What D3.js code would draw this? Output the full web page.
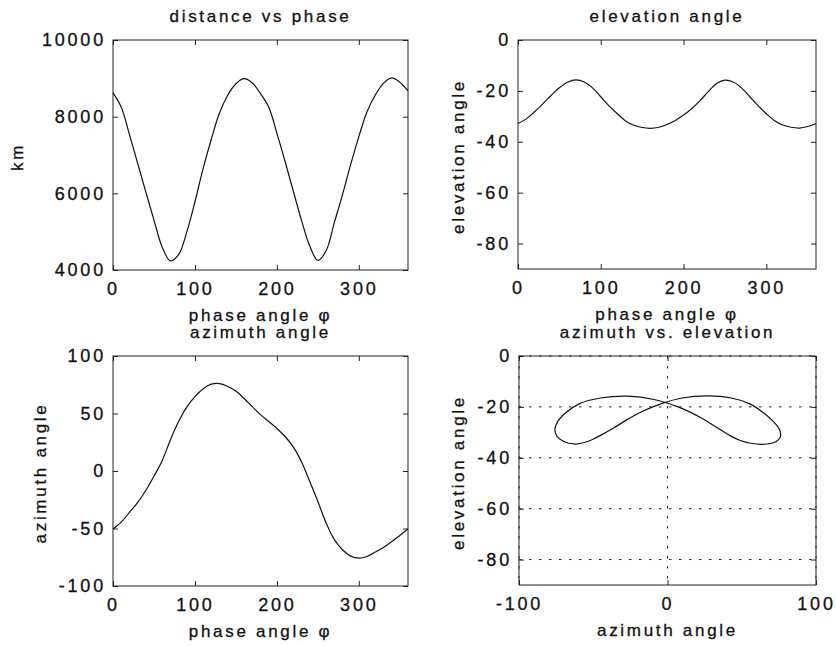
<!DOCTYPE html>
<html>
<head>
<meta charset="utf-8">
<script src="https://cdn.jsdelivr.net/npm/d3@7"></script>
<style>
	body { margin: 0; background: #fff; }
	svg text { font-family: "Liberation Sans", Arial, sans-serif; fill: #111; stroke: #111; stroke-width: 0.3px; }
	.tick text { font-size: 18px; letter-spacing: 2.8px; }
	.title, .label { font-size: 17px; letter-spacing: 2.7px; }
	.box { fill: none; stroke: #222; stroke-width: 1; }
	.tick line { stroke: #222; }
	.curve { fill: none; stroke: #111; stroke-width: 1.2; }
	.grid { stroke: #222; stroke-width: 1; stroke-dasharray: 2.5,7.5; }
</style>
</head>
<body>
<div id="chart"></div>
<script>
var phase = [0, 10, 20, 30, 40, 50, 60, 70, 80, 90, 100, 110, 120, 130, 140, 150, 160, 170, 180,
	190, 200, 210, 220, 230, 240, 250, 260, 270, 280, 290, 300, 310, 320, 330, 340, 350, 360];

var distanceKm = [8620, 8250, 7540, 6790, 6040, 5300, 4600, 4240, 4400, 4990, 5780, 6650, 7410,
	8100, 8560, 8860, 8990, 8880, 8600, 8250, 7570, 6830, 6060, 5300, 4630, 4250, 4500, 5230,
	5960, 6750, 7480, 8130, 8560, 8870, 9010, 8900, 8670];

var elevationDeg = [-32.8, -31.0, -28.2, -25.1, -21.8, -18.8, -16.6, -15.7, -16.5, -18.8, -22.3,
	-25.9, -29.0, -31.8, -33.5, -34.4, -34.7, -34.3, -33.2, -31.6, -29.5, -26.9, -23.8, -20.2,
	-17.1, -15.8, -16.5, -18.8, -22.3, -25.8, -29.0, -31.7, -33.4, -34.3, -34.6, -34.0, -32.8];

var azimuthDeg = [-50.5, -44.5, -36, -27.5, -17, -4.5, 9, 27, 43, 55.5, 64.6, 71.5, 75.5, 76,
	73.5, 69.5, 63, 56, 49, 43, 37, 30, 21, 8, -9, -26.5, -45, -59.5, -68.5, -74, -75.8, -74.3,
	-70.5, -66.5, -61.5, -56, -50.5];

var phaseTicks = [0, 100, 200, 300];
var distanceTicks = [4000, 6000, 8000, 10000];
var elevationTicks = [-80, -60, -40, -20, 0];
var azimuthTicks = [-100, -50, 0, 50, 100];
var azimuthXTicks = [-100, 0, 100];

var titles = ['distance vs phase', 'elevation angle', 'azimuth angle', 'azimuth vs. elevation'];
var xLabels = ['phase angle \u03c6', 'phase angle \u03c6', 'phase angle \u03c6', 'azimuth angle'];
var yLabels = ['km', 'elevation angle', 'azimuth angle', 'elevation angle'];

var W = 836, H = 646;

var svg = d3.select('#chart')
	.append('svg')
		.attr('width', W)
		.attr('height', H)
;

var panels = [
	{ x: 113, y: 40, w: 295, h: 230, labelX: 17.5,
		xDomain: [0, 360], yDomain: [4000, 10000], xTicks: phaseTicks, yTicks: distanceTicks,
		points: phase.map((p, i) => [p, distanceKm[i]]) },
	{ x: 518, y: 40, w: 298, h: 229, labelX: 458,
		xDomain: [0, 360], yDomain: [-90, 0], xTicks: phaseTicks, yTicks: elevationTicks,
		points: phase.map((p, i) => [p, elevationDeg[i]]) },
	{ x: 113, y: 356, w: 295, h: 230, labelX: 40,
		xDomain: [0, 360], yDomain: [-100, 100], xTicks: phaseTicks, yTicks: azimuthTicks,
		points: phase.map((p, i) => [p, azimuthDeg[i]]) },
	{ x: 519, y: 356, w: 297, h: 229, labelX: 458, grid: true,
		xDomain: [-100, 100], yDomain: [-90, 0], xTicks: azimuthXTicks, yTicks: elevationTicks,
		points: phase.map((p, i) => [azimuthDeg[i], elevationDeg[i]]) }
];

var fmt = (d) => String(d);

panels.forEach(function (p, k) {
	var xs = d3.scaleLinear().domain(p.xDomain).range([p.x, p.x + p.w]);
	var ys = d3.scaleLinear().domain(p.yDomain).range([p.y + p.h, p.y]);

	var g = svg.append('g');

	g.append('rect')
		.attr('class', 'box')
		.attr('x', p.x)
		.attr('y', p.y)
		.attr('width', p.w)
		.attr('height', p.h)
	;

	if (p.grid) {
		g.selectAll('line.gy')
			.data(p.yTicks)
			.enter()
			.append('line')
				.attr('class', 'grid')
				.attr('x1', p.x).attr('x2', p.x + p.w)
				.attr('y1', (d) => ys(d)).attr('y2', (d) => ys(d))
		;
		g.selectAll('line.gx')
			.data(p.xTicks)
			.enter()
			.append('line')
				.attr('class', 'grid')
				.attr('y1', p.y).attr('y2', p.y + p.h)
				.attr('x1', (d) => xs(d)).attr('x2', (d) => xs(d))
		;
	}

	var line = d3.line()
		.x((d) => xs(d[0]))
		.y((d) => ys(d[1]))
		.curve(d3.curveCatmullRom)
	;

	g.append('path')
		.attr('class', 'curve')
		.attr('d', line(p.points))
	;

	// inward ticks on all four sides
	g.append('g')
		.attr('transform', 'translate(0,' + (p.y + p.h) + ')')
		.call(d3.axisBottom(xs).tickValues(p.xTicks).tickFormat(fmt).tickSizeInner(-5).tickSizeOuter(0).tickPadding(12))
	;
	g.append('g')
		.attr('transform', 'translate(' + p.x + ',0)')
		.call(d3.axisLeft(ys).tickValues(p.yTicks).tickFormat(fmt).tickSizeInner(-5).tickSizeOuter(0).tickPadding(7))
	;
	g.append('g')
		.attr('transform', 'translate(0,' + p.y + ')')
		.call(d3.axisTop(xs).tickValues(p.xTicks).tickSizeInner(-5).tickSizeOuter(0).tickFormat(''))
	;
	g.append('g')
		.attr('transform', 'translate(' + (p.x + p.w) + ',0)')
		.call(d3.axisRight(ys).tickValues(p.yTicks).tickSizeInner(-5).tickSizeOuter(0).tickFormat(''))
	;
	g.selectAll('.domain').remove();
	g.selectAll('.tick text').attr('fill', '#111').attr('font-family', null).attr('font-size', null);

	g.append('text')
		.attr('class', 'title')
		.attr('x', p.x + p.w / 2)
		.attr('y', p.y - 18)
		.attr('text-anchor', 'middle')
		.text(titles[k])
	;

	g.append('text')
		.attr('class', 'label')
		.attr('x', p.x + p.w / 2)
		.attr('y', p.y + p.h + 51)
		.attr('text-anchor', 'middle')
		.text(xLabels[k])
	;

	g.append('text')
		.attr('class', 'label')
		.attr('transform', 'translate(' + p.labelX + ',' + (p.y + p.h / 2 + 2) + ') rotate(-90)')
		.attr('text-anchor', 'middle')
		.attr('dominant-baseline', 'central')
		.text(yLabels[k])
	;
});
</script>
</body>
</html>
